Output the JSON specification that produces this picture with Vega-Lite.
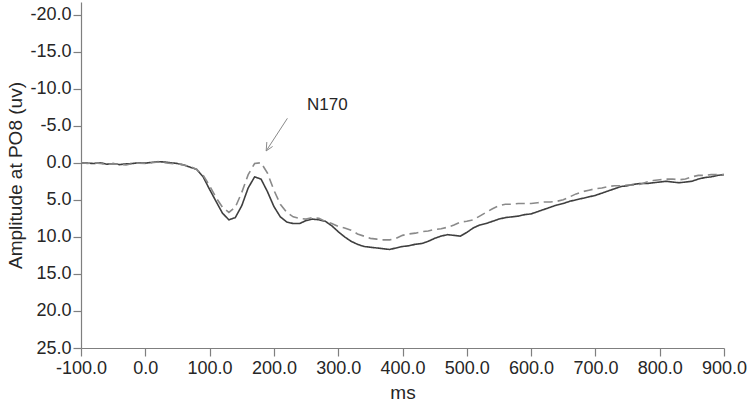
{
  "$schema": "https://vega.github.io/schema/vega-lite/v6.json",
  "width": 643,
  "height": 346,
  "autosize": {"type": "none"},
  "padding": {"left": 81, "top": 2, "right": 26, "bottom": 56},
  "background": "white",
  "config": {
    "view": {"stroke": null},
    "font": "Liberation Sans",
    "axis": {
      "grid": false,
      "domainColor": "#7f7f7f",
      "tickColor": "#7f7f7f",
      "domainWidth": 1.2,
      "tickWidth": 1.2,
      "labelColor": "#262626",
      "titleColor": "#262626",
      "labelFont": "Liberation Sans",
      "titleFont": "Liberation Sans",
      "labelFontSize": 18,
      "titleFontSize": 19,
      "titleFontWeight": "normal",
      "tickSize": 8,
      "labelOverlap": false,
      "labelFlush": false,
      "labelSeparation": 0
    }
  },
  "datasets": {
    "erp": [
      {"ms": -100, "solid": 0.0, "dashed": 0.0},
      {"ms": -90, "solid": 0.05, "dashed": 0.1},
      {"ms": -80, "solid": 0.1, "dashed": 0.0},
      {"ms": -70, "solid": 0.0, "dashed": 0.1},
      {"ms": -60, "solid": 0.2, "dashed": 0.2},
      {"ms": -50, "solid": 0.1, "dashed": 0.15},
      {"ms": -40, "solid": 0.25, "dashed": 0.2},
      {"ms": -30, "solid": 0.15, "dashed": 0.3},
      {"ms": -20, "solid": 0.1, "dashed": 0.1},
      {"ms": -10, "solid": 0.0, "dashed": 0.05},
      {"ms": 0, "solid": 0.05, "dashed": 0.1},
      {"ms": 10, "solid": -0.05, "dashed": 0.0},
      {"ms": 20, "solid": -0.15, "dashed": -0.1},
      {"ms": 30, "solid": -0.1, "dashed": 0.0},
      {"ms": 40, "solid": 0.0, "dashed": 0.1},
      {"ms": 50, "solid": 0.1, "dashed": 0.15},
      {"ms": 60, "solid": 0.3, "dashed": 0.3},
      {"ms": 70, "solid": 0.6, "dashed": 0.5},
      {"ms": 80, "solid": 0.9, "dashed": 0.9},
      {"ms": 90, "solid": 1.9, "dashed": 1.7},
      {"ms": 100, "solid": 3.6, "dashed": 3.1},
      {"ms": 110, "solid": 5.2, "dashed": 4.7},
      {"ms": 120, "solid": 6.8, "dashed": 6.0},
      {"ms": 130, "solid": 7.7, "dashed": 6.7},
      {"ms": 140, "solid": 7.4, "dashed": 6.0},
      {"ms": 150, "solid": 5.8, "dashed": 4.0},
      {"ms": 160, "solid": 3.4, "dashed": 1.6},
      {"ms": 170, "solid": 1.9, "dashed": 0.1},
      {"ms": 180, "solid": 2.2, "dashed": 0.0},
      {"ms": 190, "solid": 3.9, "dashed": 1.4},
      {"ms": 200, "solid": 5.9, "dashed": 3.7},
      {"ms": 210, "solid": 7.3, "dashed": 5.6},
      {"ms": 220, "solid": 8.0, "dashed": 6.7},
      {"ms": 230, "solid": 8.2, "dashed": 7.3},
      {"ms": 240, "solid": 8.2, "dashed": 7.5},
      {"ms": 250, "solid": 7.8, "dashed": 7.6},
      {"ms": 260, "solid": 7.6, "dashed": 7.4},
      {"ms": 270, "solid": 7.7, "dashed": 7.5},
      {"ms": 280, "solid": 7.9, "dashed": 7.9},
      {"ms": 290, "solid": 8.5, "dashed": 8.2},
      {"ms": 300, "solid": 9.3, "dashed": 8.6},
      {"ms": 310, "solid": 10.0, "dashed": 8.8},
      {"ms": 320, "solid": 10.6, "dashed": 9.1},
      {"ms": 330, "solid": 11.0, "dashed": 9.6},
      {"ms": 340, "solid": 11.3, "dashed": 9.9},
      {"ms": 350, "solid": 11.4, "dashed": 10.2},
      {"ms": 360, "solid": 11.5, "dashed": 10.3},
      {"ms": 370, "solid": 11.6, "dashed": 10.4},
      {"ms": 380, "solid": 11.7, "dashed": 10.4},
      {"ms": 390, "solid": 11.5, "dashed": 10.2},
      {"ms": 400, "solid": 11.3, "dashed": 9.8},
      {"ms": 410, "solid": 11.2, "dashed": 9.6},
      {"ms": 420, "solid": 11.0, "dashed": 9.5},
      {"ms": 430, "solid": 10.9, "dashed": 9.3},
      {"ms": 440, "solid": 10.6, "dashed": 9.2},
      {"ms": 450, "solid": 10.2, "dashed": 9.0},
      {"ms": 460, "solid": 9.9, "dashed": 8.9},
      {"ms": 470, "solid": 9.7, "dashed": 8.7},
      {"ms": 480, "solid": 9.8, "dashed": 8.4},
      {"ms": 490, "solid": 9.9, "dashed": 8.0},
      {"ms": 500, "solid": 9.4, "dashed": 7.9},
      {"ms": 510, "solid": 8.8, "dashed": 7.7},
      {"ms": 520, "solid": 8.4, "dashed": 7.2},
      {"ms": 530, "solid": 8.2, "dashed": 6.7},
      {"ms": 540, "solid": 7.9, "dashed": 6.2},
      {"ms": 550, "solid": 7.6, "dashed": 5.8},
      {"ms": 560, "solid": 7.4, "dashed": 5.6},
      {"ms": 570, "solid": 7.3, "dashed": 5.6},
      {"ms": 580, "solid": 7.2, "dashed": 5.5},
      {"ms": 590, "solid": 7.0, "dashed": 5.5},
      {"ms": 600, "solid": 6.9, "dashed": 5.5},
      {"ms": 610, "solid": 6.6, "dashed": 5.4},
      {"ms": 620, "solid": 6.3, "dashed": 5.3},
      {"ms": 630, "solid": 6.0, "dashed": 5.3},
      {"ms": 640, "solid": 5.7, "dashed": 5.2},
      {"ms": 650, "solid": 5.5, "dashed": 5.0},
      {"ms": 660, "solid": 5.2, "dashed": 4.6},
      {"ms": 670, "solid": 5.0, "dashed": 4.2},
      {"ms": 680, "solid": 4.8, "dashed": 3.9},
      {"ms": 690, "solid": 4.6, "dashed": 3.7},
      {"ms": 700, "solid": 4.4, "dashed": 3.5},
      {"ms": 710, "solid": 4.1, "dashed": 3.4},
      {"ms": 720, "solid": 3.8, "dashed": 3.2},
      {"ms": 730, "solid": 3.5, "dashed": 3.1},
      {"ms": 740, "solid": 3.2, "dashed": 3.1},
      {"ms": 750, "solid": 3.1, "dashed": 3.0},
      {"ms": 760, "solid": 2.9, "dashed": 3.0},
      {"ms": 770, "solid": 2.8, "dashed": 2.9},
      {"ms": 780, "solid": 2.8, "dashed": 2.6},
      {"ms": 790, "solid": 2.7, "dashed": 2.4},
      {"ms": 800, "solid": 2.6, "dashed": 2.3},
      {"ms": 810, "solid": 2.5, "dashed": 2.2},
      {"ms": 820, "solid": 2.6, "dashed": 2.2},
      {"ms": 830, "solid": 2.7, "dashed": 2.3},
      {"ms": 840, "solid": 2.6, "dashed": 2.2},
      {"ms": 850, "solid": 2.5, "dashed": 1.9},
      {"ms": 860, "solid": 2.2, "dashed": 1.7},
      {"ms": 870, "solid": 2.0, "dashed": 1.7},
      {"ms": 880, "solid": 1.9, "dashed": 1.6},
      {"ms": 890, "solid": 1.7, "dashed": 1.6},
      {"ms": 900, "solid": 1.6, "dashed": 1.6}
    ],
    "arrow": [
      {"ms": 221, "amp": -6.0, "ms2": 188, "amp2": -1.6},
      {"ms": 198, "amp": -2.2, "ms2": 188, "amp2": -1.6},
      {"ms": 189, "amp": -2.8, "ms2": 188, "amp2": -1.6}
    ],
    "label": [
      {"ms": 283, "amp": -7.8, "text": "N170"}
    ]
  },
  "encoding": {
    "x": {
      "field": "ms", "type": "quantitative",
      "scale": {"domain": [-100, 900], "nice": false, "zero": false},
      "axis": {"title": "ms", "values": [-100, 0, 100, 200, 300, 400, 500, 600, 700, 800, 900], "labelExpr": "replace(format(datum.value, '.1f'), '\u2212', '-')", "labelPadding": 3, "titlePadding": 6, "labelOverlap": false}
    },
    "y": {
      "field": "amp", "type": "quantitative",
      "scale": {"domain": [-21.7, 25], "reverse": true, "nice": false, "zero": false},
      "axis": {"title": "Amplitude at PO8 (uv)", "values": [-20, -15, -10, -5, 0, 5, 10, 15, 20, 25], "labelExpr": "replace(format(datum.value, '.1f'), '\u2212', '-')", "labelPadding": 2, "titlePadding": 4, "labelOverlap": false}
    }
  },
  "layer": [
    {
      "data": {"name": "erp"},
      "transform": [{"fold": ["solid", "dashed"], "as": ["series", "amp"]}],
      "mark": {"type": "line", "strokeWidth": 1.6, "interpolate": "linear"},
      "encoding": {
        "color": {
          "field": "series", "type": "nominal",
          "scale": {"domain": ["solid", "dashed"], "range": ["#3f3f3f", "#8a8a8a"]},
          "legend": null
        },
        "strokeDash": {
          "field": "series", "type": "nominal",
          "scale": {"domain": ["solid", "dashed"], "range": [[1, 0], [9, 5]]},
          "legend": null
        }
      }
    },
    {
      "data": {"name": "arrow"},
      "mark": {"type": "rule", "color": "#8a8a8a", "strokeWidth": 1},
      "encoding": {
        "x2": {"field": "ms2"},
        "y2": {"field": "amp2"}
      }
    },
    {
      "data": {"name": "label"},
      "mark": {"type": "text", "fontSize": 17, "color": "#262626", "font": "Liberation Sans"},
      "encoding": {
        "text": {"field": "text"}
      }
    }
  ]
}
